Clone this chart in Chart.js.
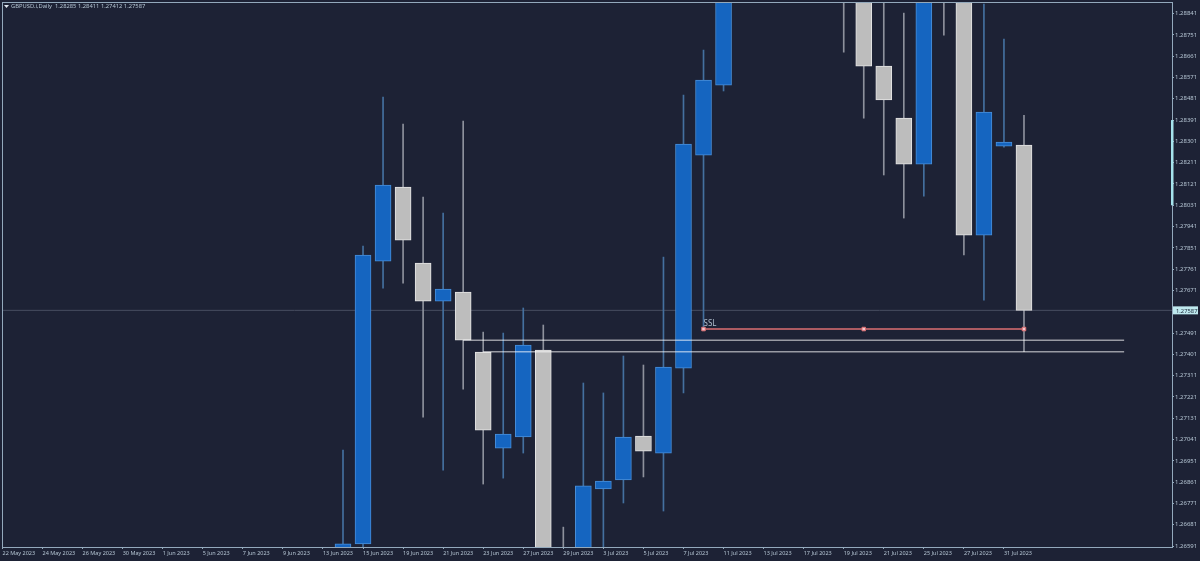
<!DOCTYPE html>
<html>
<head>
<meta charset="utf-8">
<title>GBPUSD.i Daily</title>
<script src="https://cdn.jsdelivr.net/npm/chart.js@4"></script>
<style>
    html, body { margin: 0; padding: 0; background: #1d2235; }
    canvas { display: block; }
</style>
</head>
<body>
<canvas id="chartGbp" width="1200" height="561"></canvas>
<script>
// Tick labels, one every two bars starting at bar 0
const dateLabels = ['22 May 2023', '24 May 2023', '26 May 2023', '30 May 2023', '1 Jun 2023', '5 Jun 2023', '7 Jun 2023',
    '9 Jun 2023', '13 Jun 2023', '15 Jun 2023', '19 Jun 2023', '21 Jun 2023', '23 Jun 2023', '27 Jun 2023', '29 Jun 2023',
    '3 Jul 2023', '5 Jul 2023', '7 Jul 2023', '11 Jul 2023', '13 Jul 2023', '17 Jul 2023', '19 Jul 2023', '21 Jul 2023',
    '25 Jul 2023', '27 Jul 2023', '31 Jul 2023'];
const priceTicks = [1.26591, 1.26681, 1.26771, 1.26861, 1.26951, 1.27041, 1.27131, 1.27221, 1.27311, 1.27401, 1.27491,
    1.27671, 1.27761, 1.27851, 1.27941, 1.28031, 1.28121, 1.28211, 1.28301, 1.28391, 1.28481, 1.28571, 1.28661, 1.28751, 1.28841];

// Bars 0-16 sit below the visible range, bars 37-41 above it, those are null
const firstBar = 17;
const opens = [1.26560, 1.26600, 1.27795, 1.28108, 1.27787, 1.27626, 1.27664, 1.27411, 1.27005, 1.27052, 1.27419, 1.26480,
    1.26520, 1.26832, 1.26870, 1.27056, 1.26984, 1.27343, 1.28243, 1.28539, null, null, null, null, null,
    1.28990, 1.28950, 1.28619, 1.28399, 1.28205, 1.29000, 1.28950, 1.27905, 1.28281, 1.28285];
const highs = [1.26997, 1.27859, 1.28488, 1.28374, 1.28066, 1.27998, 1.28387, 1.27495, 1.27491, 1.27597, 1.27525, 1.26671,
    1.27280, 1.27238, 1.27394, 1.27356, 1.27812, 1.28497, 1.28687, 1.28950, null, null, null, null, null,
    1.29050, 1.29000, 1.28950, 1.28843, 1.28960, 1.29100, 1.29000, 1.28881, 1.28733, 1.28411];
const lows = [1.26540, 1.26560, 1.27681, 1.27702, 1.27136, 1.26912, 1.27254, 1.26853, 1.26878, 1.26984, 1.26500, 1.26400,
    1.26500, 1.26560, 1.26773, 1.26883, 1.26739, 1.27238, 1.27508, 1.28514, null, null, null, null, null,
    1.28678, 1.28399, 1.28159, 1.27977, 1.28070, 1.28750, 1.27821, 1.27630, 1.28277, 1.27412];
const closes = [1.26600, 1.27821, 1.28116, 1.27884, 1.27626, 1.27677, 1.27461, 1.27081, 1.27064, 1.27440, 1.26540, 1.26450,
    1.26845, 1.26866, 1.27052, 1.26992, 1.27347, 1.28290, 1.28560, 1.28920, null, null, null, null, null,
    1.28950, 1.28619, 1.28476, 1.28205, 1.28940, 1.28950, 1.27905, 1.28425, 1.28298, 1.27587];

const headerText = 'GBPUSD.i,Daily  1.28285 1.28411 1.27412 1.27587';
const lastPrice = 1.27587;
const sslBars = [35, 43, 51];
const sslPrice = 1.27508;
const upperLevel = 1.27461, upperLevelBars = [23, 56];
const lowerLevel = 1.27412, lowerLevelBars = [24, 56];
const scrollMark = [1.28031, 1.28391];

const xMin = -0.025, xMax = 58.39;
const yMin = 1.26587, yMax = 1.28890;

const FRAME = '#93a9bc';
const TEXT = '#b4c4d2';
const FONT = '"Noto Sans", sans-serif';

const isBull = i => closes[i] > opens[i];
const barX = i => firstBar + i;

const mt4Decor = {
    id: 'mt4Decor',
    afterDatasetsDraw(chart) {
        const { ctx, chartArea: a, scales: { x, y } } = chart;
        ctx.save();

        // frame
        ctx.strokeStyle = FRAME;
        ctx.lineWidth = 1;
        ctx.strokeRect(a.left + 0.5, a.top + 0.5, a.right - a.left, a.bottom - a.top);

        // scroll mark on the price axis
        ctx.fillStyle = '#a5e3ec';
        const sTop = y.getPixelForValue(scrollMark[1]);
        const sBot = y.getPixelForValue(scrollMark[0]);
        ctx.fillRect(a.right - 1, sTop, 2.5, sBot - sTop);

        // header
        ctx.fillStyle = '#dfe7ee';
        ctx.beginPath();
        ctx.moveTo(4, 5);
        ctx.lineTo(9, 5);
        ctx.lineTo(6.5, 8);
        ctx.closePath();
        ctx.fill();
        ctx.font = '5.8px ' + FONT;
        ctx.fillStyle = TEXT;
        ctx.textBaseline = 'middle';
        ctx.textAlign = 'left';
        ctx.fillText(headerText, 11, 6.5);

        // SSL label
        ctx.font = '8px ' + FONT;
        ctx.fillStyle = '#aebccb';
        ctx.fillText('SSL', x.getPixelForValue(sslBars[0]), y.getPixelForValue(sslPrice) - 5.5);

        // last price tag
        const py = y.getPixelForValue(lastPrice);
        ctx.fillStyle = '#bfe9ef';
        ctx.fillRect(a.right + 1, py - 4, 25, 8);
        ctx.font = '5.8px ' + FONT;
        ctx.fillStyle = '#1d2a3a';
        ctx.fillText(lastPrice.toFixed(5), a.right + 4, py + 0.5);
        ctx.restore();
    }
};

new Chart(document.getElementById('chartGbp').getContext('2d'), {
    type: 'bar',
    data: {
        datasets: [
            {
                type: 'line',
                order: 4,
                data: [{ x: xMin, y: lastPrice }, { x: xMax, y: lastPrice }],
                borderColor: '#474d60',
                borderWidth: 1,
                pointRadius: 0
            },
            {
                order: 3,
                data: opens.map((o, i) => ({ x: barX(i), y: o === null ? null : [lows[i], highs[i]] })),
                backgroundColor: opens.map((o, i) => isBull(i) ? '#44709f' : '#8d919c'),
                barThickness: 1,
                grouped: false
            },
            {
                order: 2,
                data: opens.map((o, i) => ({ x: barX(i), y: o === null ? null : [o, closes[i]] })),
                backgroundColor: opens.map((o, i) => isBull(i) ? '#1565c0' : '#bdbdbd'),
                borderColor: opens.map((o, i) => isBull(i) ? '#4a8fd8' : '#e4e4e4'),
                borderWidth: 1,
                borderSkipped: false,
                barThickness: 16,
                grouped: false
            },
            {
                type: 'line',
                order: 1,
                data: upperLevelBars.map(b => ({ x: b, y: upperLevel })),
                borderColor: 'rgba(255,255,255,0.55)',
                borderWidth: 1.5,
                pointRadius: 0
            },
            {
                type: 'line',
                order: 1,
                data: lowerLevelBars.map(b => ({ x: b, y: lowerLevel })),
                borderColor: 'rgba(255,255,255,0.55)',
                borderWidth: 1.5,
                pointRadius: 0
            },
            {
                type: 'line',
                order: 0,
                data: sslBars.map(b => ({ x: b, y: sslPrice })),
                borderColor: '#dc6f72',
                borderWidth: 1.5,
                pointStyle: 'rect',
                pointRadius: 2.5,
                pointBackgroundColor: '#f3c6cf',
                pointBorderColor: '#dc6f72',
                pointBorderWidth: 1
            }
        ]
    },
    options: {
        responsive: false,
        animation: false,
        devicePixelRatio: 1,
        layout: { autoPadding: false, padding: { left: 2, top: 2, right: 0, bottom: 0 } },
        plugins: { legend: { display: false }, tooltip: { enabled: false } },
        scales: {
            x: {
                type: 'linear',
                min: xMin,
                max: xMax,
                offset: false,
                afterBuildTicks: scale => {
                    scale.ticks = dateLabels.map((d, i) => ({ value: i * 2 }));
                },
                afterFit: scale => {
                    scale.height = 14;
                    scale.paddingLeft = 0;
                    scale.paddingRight = 0;
                },
                grid: { offset: false, drawOnChartArea: false, drawTicks: true, tickLength: 2, color: FRAME },
                border: { display: true, color: FRAME },
                ticks: {
                    color: TEXT,
                    font: { family: FONT, size: 5.5 },
                    align: 'start',
                    padding: 1,
                    maxRotation: 0,
                    autoSkip: false,
                    callback: v => dateLabels[v / 2]
                }
            },
            y: {
                position: 'right',
                min: yMin,
                max: yMax,
                afterBuildTicks: scale => {
                    scale.ticks = priceTicks.map(v => ({ value: v }));
                },
                afterFit: scale => {
                    scale.width = 28;
                    scale.paddingTop = 0;
                    scale.paddingBottom = 0;
                },
                grid: { drawOnChartArea: false, drawTicks: true, tickLength: 2, color: FRAME },
                border: { display: true, color: FRAME },
                ticks: {
                    color: TEXT,
                    font: { family: FONT, size: 6 },
                    padding: 1,
                    autoSkip: false,
                    callback: v => v.toFixed(5)
                }
            }
        }
    },
    plugins: [mt4Decor]
});
</script>
</body>
</html>
